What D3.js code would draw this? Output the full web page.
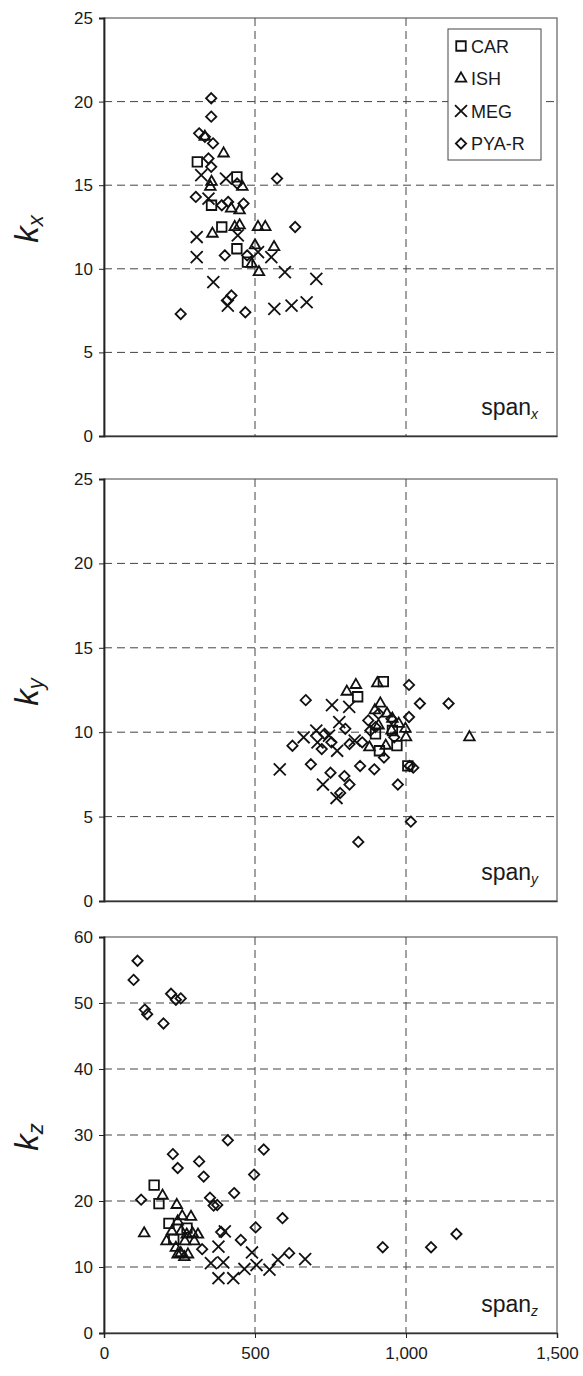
<!DOCTYPE html>
<html>
<head>
<meta charset="utf-8">
<script src="https://cdn.jsdelivr.net/npm/d3@7"></script>
<style>
    body { margin: 0; background: #fff; }
    svg text { font-family: "Liberation Sans", Arial, sans-serif; }
</style>
</head>
<body>
<svg id="chart"></svg>
<script>
// series names
var seriesNames = ["CAR", "ISH", "MEG", "PYA-R"];
var xTicks = [0, 500, 1000, 1500];

// panel 1: span_x vs k_x  ([span, k])
var carX = [[309, 16.4], [440, 15.5], [390, 12.5], [440, 11.2], [475, 10.4], [356, 13.8]];
var ishX = [[334, 17.9], [396, 16.9], [356, 15.2], [352, 14.9], [458, 14.9], [449, 13.5], [421, 13.6],
            [359, 12.1], [449, 12.6], [433, 12.5], [510, 12.5], [534, 12.5], [563, 11.3], [489, 10.3],
            [513, 9.8], [500, 11.4]];
var megX = [[322, 15.6], [346, 14.2], [404, 15.4], [307, 11.9], [307, 10.7], [362, 9.2], [443, 12.0],
            [510, 11.0], [554, 10.7], [599, 9.8], [703, 9.4], [410, 7.8], [564, 7.6], [621, 7.8], [671, 8.0]];
var pyaX = [[355, 20.2], [355, 19.1], [315, 18.1], [334, 17.9], [361, 17.5], [346, 16.6], [355, 16.1],
            [304, 14.3], [390, 13.8], [411, 14.0], [441, 15.1], [462, 13.9], [573, 15.4], [633, 12.5],
            [400, 10.8], [474, 10.8], [407, 8.1], [422, 8.4], [468, 7.4], [254, 7.3]];

// panel 2: span_y vs k_y
var carY = [[925, 13.0], [840, 12.1], [899, 9.9], [912, 8.9], [970, 9.2], [1006, 8.0], [955, 10.1]];
var ishY = [[834, 12.8], [804, 12.4], [905, 12.9], [915, 11.7], [897, 11.3], [937, 11.1], [955, 10.8],
            [976, 10.5], [952, 10.1], [998, 10.2], [1000, 9.7], [933, 9.2], [879, 9.1], [1210, 9.7], [909, 10.4]];
var megY = [[582, 7.8], [661, 9.7], [703, 10.1], [707, 9.4], [755, 11.6], [812, 11.5], [779, 10.6],
            [772, 8.9], [725, 6.9], [770, 6.1], [830, 9.5], [745, 9.8]];
var pyaY = [[668, 11.9], [624, 9.2], [685, 8.1], [721, 9.0], [730, 9.9], [753, 9.4], [750, 7.6], [782, 6.4],
            [796, 7.4], [813, 6.9], [799, 10.2], [813, 9.3], [855, 9.4], [848, 8.0], [842, 3.5], [875, 10.7],
            [882, 10.1], [895, 7.8], [899, 10.3], [909, 11.1], [927, 8.5], [961, 9.7], [973, 6.9], [1010, 12.8],
            [1010, 10.9], [1046, 11.7], [1024, 7.9], [1016, 4.7], [1141, 11.7], [1012, 8.0], [952, 10.8]];

// panel 3: span_z vs k_z
var carZ = [[166, 22.4], [182, 19.6], [215, 16.6], [231, 14.2], [275, 15.9]];
var ishZ = [[133, 15.1], [194, 20.8], [241, 19.4], [207, 13.9], [238, 12.9], [254, 12.1], [244, 11.9],
            [259, 17.7], [288, 17.6], [256, 15.4], [274, 14.9], [293, 15.1], [311, 14.9], [299, 13.9],
            [278, 11.9], [266, 11.5], [244, 16.9], [225, 15.4], [268, 13.9]];
var megZ = [[379, 13.1], [400, 15.4], [354, 10.6], [395, 10.7], [379, 8.3], [428, 8.3], [465, 9.7],
            [505, 10.3], [490, 12.2], [548, 9.6], [576, 11.1], [666, 11.2]];
var pyaZ = [[111, 56.4], [98, 53.5], [222, 51.4], [238, 50.5], [254, 50.7], [135, 49.0], [143, 48.3],
            [197, 46.9], [410, 29.2], [529, 27.8], [228, 27.1], [315, 26.0], [244, 25.0], [330, 23.7],
            [497, 24.0], [431, 21.2], [351, 20.5], [123, 20.2], [363, 19.3], [375, 19.4], [591, 17.4],
            [502, 16.0], [388, 15.3], [453, 14.1], [325, 12.7], [613, 12.1], [923, 13.0], [1083, 13.0], [1167, 15.0]];

var panels = [
    {top: 18, bottom: 436, yMax: 25, yStep: 5, axis: "x", data: [carX, ishX, megX, pyaX], legend: true, xLabels: false},
    {top: 479, bottom: 901, yMax: 25, yStep: 5, axis: "y", data: [carY, ishY, megY, pyaY], legend: false, xLabels: false},
    {top: 937, bottom: 1333, yMax: 60, yStep: 10, axis: "z", data: [carZ, ishZ, megZ, pyaZ], legend: false, xLabels: true}
];

var width = 583, height = 1376,
    left = 104, right = 557;

var svg = d3.select("#chart")
    .attr("width", width)
    .attr("height", height);

var symbols = [d3.symbolSquare2, d3.symbolTriangle2, d3.symbolTimes, d3.symbolDiamond2],
    symbolSizes = [115, 80, 95, 68];

function marker(i) {
    return d3.symbol().type(symbols[i]).size(symbolSizes[i])();
}

var xScale = d3.scaleLinear()
    .domain([0, 1500])
    .range([left, right]);

panels.forEach(function (p) {
    var yScale = d3.scaleLinear()
        .domain([0, p.yMax])
        .range([p.bottom, p.top]);
    var yTicks = d3.range(0, p.yMax + 1, p.yStep);

    var g = svg.append("g");

    // frame
    g.append("rect")
        .attr("x", left)
        .attr("y", p.top)
        .attr("width", right - left)
        .attr("height", p.bottom - p.top)
        .attr("fill", "none")
        .attr("stroke", "#777")
        .attr("stroke-width", 1.4);

    // grid
    g.selectAll(".hgrid")
        .data(yTicks.slice(1, -1))
        .enter()
        .append("line")
        .attr("x1", left)
        .attr("x2", right)
        .attr("y1", function (d) { return yScale(d); })
        .attr("y2", function (d) { return yScale(d); })
        .attr("stroke", "#444")
        .attr("stroke-width", 1)
        .attr("stroke-dasharray", "8,5");
    g.selectAll(".vgrid")
        .data(xTicks.slice(1, -1))
        .enter()
        .append("line")
        .attr("x1", function (d) { return xScale(d); })
        .attr("x2", function (d) { return xScale(d); })
        .attr("y1", p.top)
        .attr("y2", p.bottom)
        .attr("stroke", "#444")
        .attr("stroke-width", 1)
        .attr("stroke-dasharray", "8,5");

    // y axis
    var yAxis = d3.axisLeft(yScale)
        .tickValues(yTicks)
        .tickSize(5)
        .tickPadding(6);
    var ya = g.append("g")
        .attr("transform", "translate(" + left + ",0)")
        .call(yAxis);
    ya.select(".domain").attr("stroke", "#222").attr("stroke-width", 1.8);
    ya.selectAll(".tick line").attr("stroke", "#222");
    ya.selectAll("text")
        .attr("font-family", "Liberation Sans, Arial, sans-serif")
        .attr("font-size", 17)
        .attr("fill", "#1a1a1a");

    // x axis line
    var xAxis = d3.axisBottom(xScale)
        .tickValues(xTicks)
        .tickSize(p.xLabels ? 5 : 0)
        .tickPadding(9)
        .tickFormat(p.xLabels ? d3.format(",") : "");
    var xa = g.append("g")
        .attr("transform", "translate(0," + p.bottom + ")")
        .call(xAxis);
    xa.select(".domain").attr("stroke", "#333").attr("stroke-width", 1.5);
    xa.selectAll(".tick line").attr("stroke", "#222");
    xa.selectAll("text")
        .attr("font-family", "Liberation Sans, Arial, sans-serif")
        .attr("font-size", 17)
        .attr("fill", "#1a1a1a");

    // y title: k_x / k_y / k_z
    var title = g.append("text")
        .attr("transform", "translate(38," + ((p.top + p.bottom) / 2 + 2) + ") rotate(-90)")
        .attr("text-anchor", "middle")
        .attr("font-family", "Liberation Sans, Arial, sans-serif")
        .attr("font-style", "italic")
        .attr("fill", "#1a1a1a");
    title.append("tspan").attr("font-size", 33).text("k");
    title.append("tspan").attr("font-size", 22).attr("dy", 5).text(p.axis);

    // span label
    var span = g.append("text")
        .attr("x", 538)
        .attr("y", p.bottom - 21)
        .attr("text-anchor", "end")
        .attr("font-family", "DejaVu Sans, Verdana, sans-serif")
        .attr("fill", "#1a1a1a");
    span.append("tspan").attr("font-size", 23).text("span");
    span.append("tspan").attr("font-size", 14).attr("font-style", "italic").attr("dy", 4).text(p.axis);

    // points
    p.data.forEach(function (pts, i) {
        g.selectAll(".pt" + i)
            .data(pts)
            .enter()
            .append("path")
            .attr("d", marker(i))
            .attr("transform", function (d) {
                return "translate(" + xScale(d[0]) + "," + yScale(d[1]) + ")";
            })
            .attr("fill", "none")
            .attr("stroke", "#111")
            .attr("stroke-width", 1.8);
    });

    if (p.legend) {
        var lg = g.append("g").attr("transform", "translate(448,29)");
        lg.append("rect")
            .attr("width", 93)
            .attr("height", 131)
            .attr("fill", "#fff")
            .attr("stroke", "#444")
            .attr("stroke-width", 1);
        seriesNames.forEach(function (name, i) {
            var row = lg.append("g").attr("transform", "translate(13," + (17 + i * 32.5) + ")");
            row.append("path")
                .attr("d", marker(i))
                .attr("fill", "none")
                .attr("stroke", "#111")
                .attr("stroke-width", 1.8);
            row.append("text")
                .attr("x", 10)
                .attr("y", 6.5)
                .attr("font-size", 18)
                .attr("fill", "#1a1a1a")
                .text(name);
        });
    }
});
</script>
</body>
</html>
